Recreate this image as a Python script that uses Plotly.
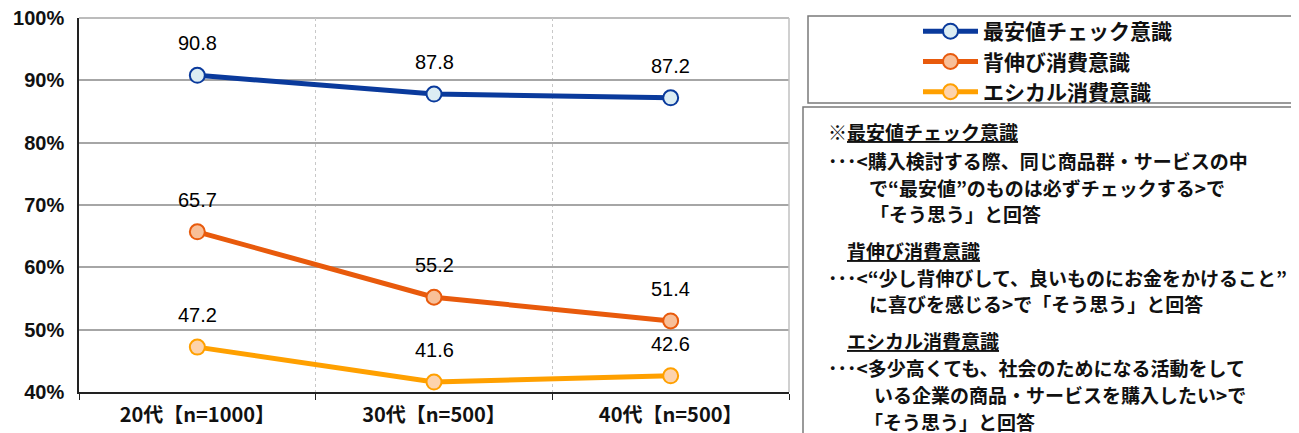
import plotly.graph_objects as go

categories = ["20代【n=1000】", "30代【n=500】", "40代【n=500】"]
series_names = ["最安値チェック意識", "背伸び消費意識", "エシカル消費意識"]
values_cheapest = [90.8, 87.8, 87.2]
values_stretch = [65.7, 55.2, 51.4]
values_ethical = [47.2, 41.6, 42.6]
y_ticks = [40, 50, 60, 70, 80, 90, 100]
y_tick_labels = ["40%", "50%", "60%", "70%", "80%", "90%", "100%"]

note_lines = [
    "※<u>最安値チェック意識</u>",
    "･･･<購入検討する際、同じ商品群・サービスの中",
    "で“最安値”のものは必ずチェックする>で",
    "「そう思う」と回答",
    "<u>背伸び消費意識</u>",
    "･･･<“少し背伸びして、良いものにお金をかけること”",
    "に喜びを感じる>で「そう思う」と回答",
    "<u>エシカル消費意識</u>",
    "･･･<多少高くても、社会のためになる活動をして",
    "いる企業の商品・サービスを購入したい>で",
    "「そう思う」と回答",
]

W, H = 1299, 433
OFF = 8  # page body margin
L, R, T, B = 79 - OFF, 789 - OFF, 18 - OFF, 392 - OFF
JP = "Noto Sans CJK JP"

def px(x):
    return (x - OFF - L) / (R - L)

def py(y):
    return (B - (y - OFF)) / (B - T)

fig = go.Figure()
series = [
    (series_names[0], values_cheapest, "#0a3a9c", "#dcedf3"),
    (series_names[1], values_stretch, "#e85a0c", "#f8bf98"),
    (series_names[2], values_ethical, "#ffa000", "#fdd3ad"),
]
for name, vals, lc, fc in series:
    fig.add_trace(go.Scatter(
        x=categories, y=vals, name=name, mode="lines+markers",
        line=dict(color=lc, width=5),
        marker=dict(size=15, color=fc, line=dict(color=lc, width=2)),
    ))
    for c, v in zip(categories, vals):
        fig.add_annotation(x=c, y=v, text=f"{v:.1f}", showarrow=False,
                           yshift=32, font=dict(family="Liberation Sans", size=20, color="#000"))

fig.update_layout(
    width=W, height=H,
    margin=dict(l=L, r=W - R, t=T, b=H - B, autoexpand=False),
    paper_bgcolor="white", plot_bgcolor="white",
    font=dict(family=JP, color="#111"),
    showlegend=True,
    legend=dict(x=px(918), y=py(11), xanchor="left", yanchor="top",
                font=dict(family=JP, size=21, color="#111", weight="bold"),
                bgcolor="rgba(0,0,0,0)", itemwidth=55, tracegroupgap=0),
    xaxis=dict(showline=True, linecolor="#222", linewidth=1.5,
               tickson="boundaries", ticks="outside", ticklen=6, tickcolor="#222",
               showgrid=True, gridcolor="#c8c8c8", griddash="dot", gridwidth=1,
               tickfont=dict(family=JP, size=20, color="#111", weight="bold"),
               ticklabelstandoff=4,
               range=[-0.5, 2.5]),
    yaxis=dict(range=[40, 100], tickvals=y_ticks, ticktext=y_tick_labels,
               showline=True, linecolor="#222", linewidth=1.5,
               showgrid=True, gridcolor="#a6a6a6", gridwidth=1.5,
               tickfont=dict(family="Liberation Sans", size=20, color="#111", weight="bold"),
               ticklabelstandoff=9, ticklabeloverflow="allow",
               ticks="", zeroline=False),
)

# top gridline (100%) and right border of plot area
fig.add_shape(type="line", xref="paper", yref="paper", x0=0, x1=1, y0=1, y1=1,
              line=dict(color="#a6a6a6", width=1.5), layer="below")
fig.add_shape(type="line", xref="paper", yref="paper", x0=1, x1=1, y0=0, y1=1,
              line=dict(color="#c0c0c0", width=1.5))
# legend box
fig.add_shape(type="rect", xref="paper", yref="paper",
              x0=px(808), x1=px(1296), y0=py(103), y1=py(16),
              line=dict(color="#7a7a7a", width=1.5))
# note box
fig.add_shape(type="rect", xref="paper", yref="paper",
              x0=px(803), x1=px(1320), y0=py(450), y1=py(107),
              line=dict(color="#7a7a7a", width=1.5))

note_pos = [
    (826, 131), (826, 160), (867, 187), (868, 213),
    (845, 250), (826, 277), (867, 303),
    (845, 340), (826, 367), (872, 394), (862, 421),
]
for txt, (x, y) in zip(note_lines, note_pos):
    fig.add_annotation(xref="paper", yref="paper", x=px(x), y=py(y), text=txt,
                       showarrow=False, xanchor="left", yanchor="middle",
                       font=dict(family=JP, size=19, color="#111", weight="bold"))

fig.write_html("out.html")
